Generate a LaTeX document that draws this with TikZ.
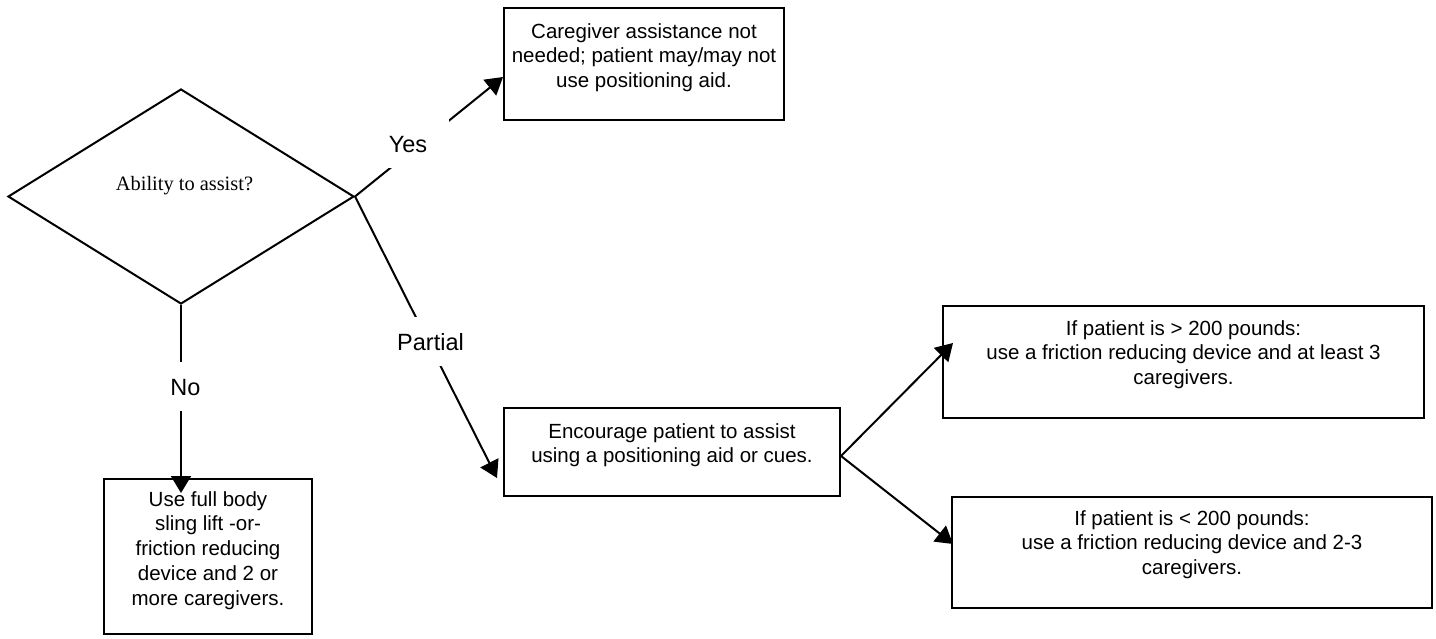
\documentclass[tikz,border=0pt]{standalone}
\usepackage{fontspec}
\setmainfont{Liberation Sans}
\newfontfamily\tnrfont{Liberation Serif}
\usetikzlibrary{shapes.geometric,arrows.meta}
\newcommand{\bxtxt}[4]{\parbox[c][#2][t]{#1}{\centering\rule{0pt}{#3}#4}}
\tikzset{
 arr/.style={line width=2pt, -{Triangle[length=17pt,width=20pt]}},
 box/.style={draw, line width=2pt, inner sep=0pt, anchor=north west, font=\fontsize{20.5}{24.75}\selectfont},
 lbl/.style={fill=white, anchor=base, inner xsep=22pt, inner ysep=16pt, text height=16.8pt, text depth=0pt, font=\fontsize{23.5}{28}\selectfont},
 decision/.style={draw, diamond, line width=2pt, inner sep=0pt, minimum width=346pt, minimum height=215pt},
 dectext/.style={anchor=base, inner sep=0pt, font=\tnrfont\fontsize{20.4}{24}\selectfont},
}
\begin{document}
\begin{tikzpicture}[x=1pt,y=-1pt]
\useasboundingbox (0,0) rectangle (1436,638);
% nodes
\node[decision] (dec) at (181,196.5) {};
\node[dectext] (dq) at (184.5,190) {Ability to assist?};
\node[box] (care) at (503,7) {\bxtxt{280pt}{112pt}{30pt}{Caregiver assistance not\\needed; patient may/may not\\use positioning aid.}};
\node[box] (full) at (103,478) {\bxtxt{208pt}{155pt}{27pt}{Use full body\\sling lift -or-\\friction reducing\\device and 2 or\\more caregivers.}};
\node[box] (enc) at (503,407) {\bxtxt{336pt}{88pt}{30pt}{Encourage patient to assist\\using a positioning aid or cues.}};
\node[box] (gt) at (942,305) {\bxtxt{481pt}{112pt}{29pt}{If patient is > 200 pounds:\\use a friction reducing device and at least 3\\caregivers.}};
\node[box] (lt) at (951,496) {\bxtxt{480pt}{111pt}{28pt}{If patient is < 200 pounds:\\use a friction reducing device and 2-3\\caregivers.}};
% connectors
\draw[arr] (dec.east) -- ([yshift=-13pt]care.west);
\draw[arr, shorten >=-15pt] (dec.south) -- (dec.south |- full.north);
\draw[arr] (dec.east) -- ([xshift=-6pt,yshift=-26pt]enc.west);
\draw[arr] ([yshift=-4pt]enc.east) -- ([xshift=11pt,yshift=19pt]gt.west);
\draw[arr] ([yshift=-4pt]enc.east) -- ([xshift=2pt,yshift=8.5pt]lt.west);
% connector labels
\node[lbl] (lyes) at (408,152) {Yes};
\node[lbl] (lno) at (185.5,395) {No};
\node[lbl] (lpartial) at (430.5,350) {Partial};
\end{tikzpicture}
\end{document}
